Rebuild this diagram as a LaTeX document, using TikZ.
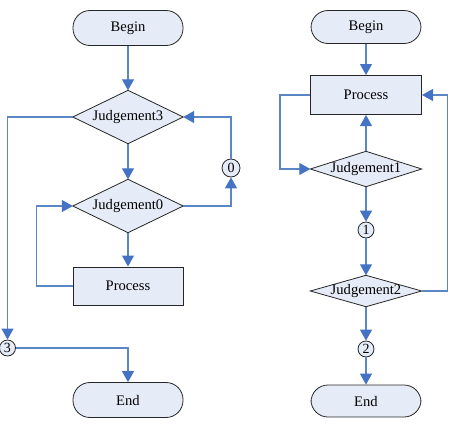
\documentclass[tikz,border=0pt]{standalone}
\usepackage{fontspec}
\setmainfont{Liberation Serif}
\usetikzlibrary{arrows.meta,backgrounds}
\definecolor{boxfill}{HTML}{E6ECF7}
\definecolor{flowblue}{HTML}{5B87C5}
\definecolor{tipblue}{HTML}{4472C4}
\begin{document}
\begin{tikzpicture}[x=1pt,y=-1pt,
  every node/.style={font=\fontsize{14.6}{16}\selectfont},
  terminal/.style={draw=black!85,fill=boxfill,line width=0.8pt,rectangle,
    rounded corners=17pt,minimum width=110pt,minimum height=35pt,inner sep=0pt},
  procbox/.style={draw=black!85,fill=boxfill,line width=1pt,rectangle,
    minimum width=110pt,minimum height=38pt,inner sep=0pt},
  decision/.style={rectangle,minimum width=110pt,inner sep=0pt},
  connector/.style={draw=black!85,fill=boxfill,circle,line width=0.8pt,
    minimum size=16pt,inner sep=0pt,font=\fontsize{14}{15}\selectfont},
  flow/.style={draw=flowblue,line width=1.1pt,
    -{Triangle[length=11pt,width=12pt,fill=tipblue,color=tipblue]}},
  plain/.style={draw=flowblue,line width=1.1pt}]
\useasboundingbox (0,0) rectangle (460,426);

% left flow chart
\node[terminal] (b1) at (128,28) {Begin};
\node[decision,minimum height=53pt] (j3) at (128,117) {Judgement3};
\node[decision,minimum height=53pt] (j0) at (128,206) {Judgement0};
\node[procbox] (p1) at (128,286) {Process};
\node[connector,minimum size=18pt] (c0) at (231,168) {0};
\node[connector] (c3) at (7.5,348) {3};
\node[terminal] (e1) at (128,400) {End};

% right flow chart
\node[terminal,minimum height=33pt] (b2) at (366,27) {Begin};
\node[procbox,minimum width=111pt,minimum height=39pt] (p2) at (366,95) {Process};
\node[decision,minimum width=111pt,minimum height=35pt] (j1) at (366,169) {Judgement1};
\node[connector] (c1) at (366,230) {1};
\node[decision,minimum width=111pt,minimum height=31pt] (j2) at (366,291) {Judgement2};
\node[connector] (c2) at (366,349) {2};
\node[terminal,minimum height=32pt] (e2) at (366,401) {End};

% decision diamonds behind their labels
\begin{pgfonlayer}{background}
  \foreach \d in {j3,j0,j1,j2}
    \draw[draw=black!85,fill=boxfill,line width=0.8pt]
      (\d.north) -- (\d.east) -- (\d.south) -- (\d.west) -- cycle;
\end{pgfonlayer}

% left connectors
\draw[flow] (b1) -- (j3);
\draw[flow] (j3) -- (j0);
\draw[flow] (j0) -- (p1);
\draw[flow] (j0.east) -| (c0);
\draw[flow] (c0) |- (j3.east);
\draw[flow] (p1.west) -- ++(-36,0) |- (j0.west);
\draw[flow] (j3.west) -| (c3);
\draw[flow] (c3) -| (e1);

% right connectors
\draw[flow] (b2) -- (p2);
\draw[flow] (j1) -- (p2);
\draw[flow] (p2.west) -- ++(-30,0) |- (j1.west);
\draw[flow] (j1) -- (c1);
\draw[flow] (c1) -- (j2);
\draw[flow] (j2) -- (c2);
\draw[flow] (c2) -- (e2);
\draw[flow] (j2.east) -- ++(26,0) |- (p2.east);
\end{tikzpicture}
\end{document}
